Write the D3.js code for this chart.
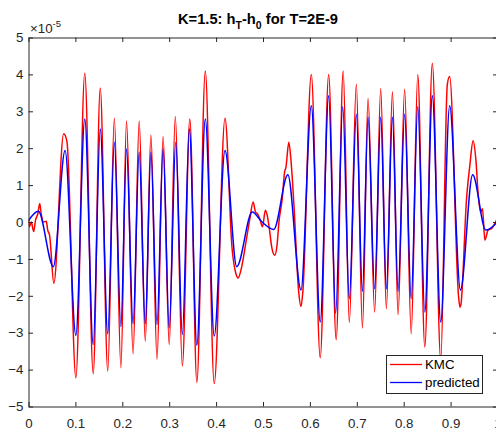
<!DOCTYPE html>
<html>
<head>
<meta charset="utf-8">
<script src="https://cdn.jsdelivr.net/npm/d3@7"></script>
<style>
body { margin: 0; background: #fff; overflow: hidden; }
svg { display: block; font-family: "Liberation Sans", Arial, sans-serif; }
</style>
</head>
<body>
<script>
// values (h in units of 1e-5)
const kmcT = [0, 0.002, 0.006, 0.011, 0.015, 0.020, 0.024, 0.027, 0.032, 0.038, 0.041, 0.045, 0.054, 0.075, 0.082,
  0.101, 0.120, 0.138, 0.153, 0.169, 0.183, 0.197, 0.209, 0.223, 0.236, 0.249, 0.261, 0.274, 0.287, 0.300, 0.313,
  0.328, 0.344, 0.359, 0.377, 0.396, 0.419, 0.434, 0.442, 0.447, 0.454, 0.465, 0.472, 0.479, 0.484, 0.488, 0.494,
  0.499, 0.505, 0.509, 0.513, 0.519, 0.525, 0.530, 0.534, 0.541, 0.546, 0.549, 0.555, 0.560, 0.566, 0.576, 0.581,
  0.585, 0.603, 0.622, 0.640, 0.656, 0.671, 0.684, 0.699, 0.712, 0.724, 0.738, 0.751, 0.763, 0.776, 0.788, 0.802,
  0.816, 0.830, 0.845, 0.861, 0.879, 0.893, 0.898, 0.917, 0.920, 0.922, 0.934, 0.941, 0.948, 0.954, 0.959, 0.964,
  0.968, 0.973, 0.980, 0.987, 0.998];
const kmcH = [0.05, -0.13, 0, -0.26, 0.05, 0.23, 0.5, 0.23, 0, 0.02, -0.22, -0.36, -1.66, 2.39, 2.18,
  -4.22, 4.03, -4.11, 3.63, -4.04, 2.81, -3.95, 2.74, -3.57, 2.74, -3.23, 2.36, -3.72, 2.32, -3.32, 2.86,
  -3.90, 2.79, -4.35, 4.09, -4.38, 2.81, -0.71, -1.39, -1.52, -1.25, -0.44, 0.09, 0.54, 0.27, 0.23, 0.05,
  -0.13, 0.32, 0.18, -0.13, -0.71, -0.9, -0.62, 0, 0.63, 1.35, 1.49, 2.16, 1.62, 0.45, -1.88, -2.29,
  -1.88, 4.0, -3.68, 4.0, -3.19, 4.09, -2.72, 3.73, -2.87, 3.35, -2.44, 3.62, -2.35, 3.53, -2.51, 3.6,
  -3.03, 4.0, -3.39, 4.3, -3.75, 3.73, 3.94, -2.02, -2.31, -2.24, 0.63, 1.53, 2.2, 1.67, 0.72, 0.27,
  0.36, -0.49, -0.22, -0.18, 0.05];

const predT = [0, 0.021, 0.053, 0.078, 0.101, 0.120, 0.138, 0.153, 0.169, 0.183, 0.197, 0.209, 0.223, 0.236,
  0.249, 0.261, 0.274, 0.287, 0.300, 0.314, 0.328, 0.343, 0.359, 0.377, 0.396, 0.419, 0.444, 0.477, 0.498,
  0.523, 0.553, 0.581, 0.603, 0.622, 0.640, 0.655, 0.670, 0.684, 0.699, 0.712, 0.724, 0.738, 0.751, 0.763,
  0.776, 0.788, 0.802, 0.816, 0.830, 0.845, 0.861, 0.879, 0.898, 0.921, 0.947, 0.975, 1.0];
const predH = [0.04, 0.29, -1.21, 1.94, -3.07, 2.79, -3.32, 2.52, -3.03, 2.16, -2.83, 1.98, -2.76, 1.89,
  -2.76, 1.89, -2.78, 1.98, -2.87, 2.16, -3.05, 2.52, -3.34, 2.79, -3.09, 1.94, -1.21, 0.27, 0,
  -0.2, 1.28, -1.84, 3.15, -2.71, 3.42, -2.47, 3.13, -2.08, 2.92, -1.88, 2.84, -1.81, 2.84, -1.81,
  2.84, -1.88, 2.92, -2.08, 3.13, -2.44, 3.42, -2.71, 3.15, -1.84, 1.28, -0.22, 0];

const xTicks = [0, 0.1, 0.2, 0.3, 0.4, 0.5, 0.6, 0.7, 0.8, 0.9, 1];
const yTicks = [-5, -4, -3, -2, -1, 0, 1, 2, 3, 4, 5];
const seriesNames = ["KMC", "predicted"];
const seriesColors = ["#ff0000", "#0000ff"];

const w = 496;
const h = 430;
const margin = { top: 37.5, left: 28.5 };
const plotW = 469;
const plotH = 369;
const axisColor = "#262626";

var svg = d3.select("body").append("svg")
  .attr("width", w)
  .attr("height", h)

var x = d3.scaleLinear().domain([0, 1]).range([0, plotW])
var y = d3.scaleLinear().domain([-5, 5]).range([plotH, 0])

var g = svg.append("g").attr("transform", `translate(${margin.left},${margin.top})`)

g.append("clipPath").attr("id", "plot-clip")
  .append("rect").attr("width", plotW).attr("height", plotH)

// lines
var line = d3.line()
  .x(d => x(d[0]))
  .y(d => y(d[1]))
  .curve(d3.curveMonotoneX)

var lines = g.append("g").attr("clip-path", "url(#plot-clip)")
lines.append("path")
  .datum(d3.zip(kmcT, kmcH))
  .attr("d", line)
  .style("fill", "none")
  .style("stroke", seriesColors[0])
  .style("stroke-width", 1.5)
  .style("stroke-linejoin", "round")
lines.append("path")
  .datum(d3.zip(predT, predH))
  .attr("d", line)
  .style("fill", "none")
  .style("stroke", seriesColors[1])
  .style("stroke-width", 1.5)
  .style("stroke-linejoin", "round")

// axes, MATLAB style: ticks inward, box all round
var fmt = d3.format("~g")
var xBottom = g.append("g").attr("transform", `translate(0,${plotH})`)
  .call(d3.axisBottom(x).tickValues(xTicks).tickFormat(fmt).tickSizeInner(-4.5).tickSizeOuter(0).tickPadding(12))
var xTop = g.append("g")
  .call(d3.axisTop(x).tickValues(xTicks).tickFormat("").tickSizeInner(-4.5).tickSizeOuter(0))
var yLeft = g.append("g")
  .call(d3.axisLeft(y).tickValues(yTicks).tickFormat(fmt).tickSizeInner(-4.5).tickSizeOuter(0).tickPadding(5))
var yRight = g.append("g").attr("transform", `translate(${plotW},0)`)
  .call(d3.axisRight(y).tickValues(yTicks).tickFormat("").tickSizeInner(-4.5).tickSizeOuter(0))

g.selectAll(".domain, .tick line").style("stroke", axisColor)
g.selectAll(".tick text")
  .style("fill", axisColor)
  .style("font-size", "13.3px")
  .style("font-family", "'Liberation Sans', Arial, sans-serif")

// exponent label
var expo = svg.append("text")
  .attr("x", 30).attr("y", 33)
  .style("fill", axisColor)
  .style("font-size", "13.3px")
expo.append("tspan").text("\u00d710")
expo.append("tspan").attr("dy", -6).style("font-size", "9.5px").text("-5")

// title with subscripts
var title = svg.append("text")
  .attr("x", 258).attr("y", 24)
  .attr("text-anchor", "middle")
  .style("font-weight", "bold")
  .style("font-size", "14.7px")
  .style("fill", "#000")
title.append("tspan").text("K=1.5: h")
title.append("tspan").attr("dy", 5).style("font-size", "10.5px").text("T")
title.append("tspan").attr("dy", -5).text("-h")
title.append("tspan").attr("dy", 5).style("font-size", "10.5px").text("0")
title.append("tspan").attr("dy", -5).text(" for T=2E-9")

// legend
var legend = svg.append("g")
legend.append("rect")
  .attr("x", 386.5).attr("y", 355.5)
  .attr("width", 96).attr("height", 38)
  .style("fill", "#fff")
  .style("stroke", axisColor)
  .style("stroke-width", 1)
var items = legend.selectAll("g.item").data(seriesNames)
  .join("g")
  .attr("class", "item")
  .attr("transform", (d, i) => `translate(390,${364.5 + i * 18})`)
items.append("line")
  .attr("x1", 0).attr("x2", 32)
  .style("stroke", (d, i) => seriesColors[i])
  .style("stroke-width", 1.3)
items.append("text")
  .attr("x", 35).attr("dy", "0.35em")
  .style("font-size", "13.3px")
  .style("fill", "#000")
  .text(d => d)
</script>
</body>
</html>
